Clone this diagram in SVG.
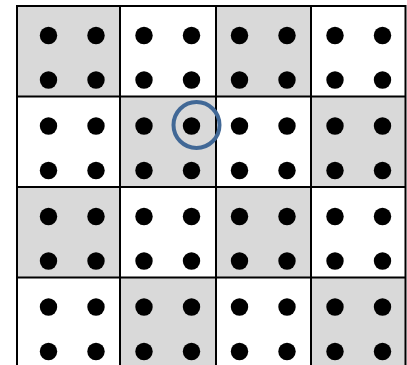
<svg xmlns="http://www.w3.org/2000/svg" width="407" height="365" viewBox="0 0 407 365">
<style>
.g{fill:#d9d9d9}
.ln{stroke:#000;stroke-width:2;fill:none}
.d{fill:#000}
.hl{fill:none;stroke:#416896;stroke-width:4}
</style>
<defs>
<g id="dots"><circle class="d" cx="24" cy="29.5" r="8.7"/><circle class="d" cx="71.5" cy="29.5" r="8.7"/><circle class="d" cx="24" cy="74" r="8.7"/><circle class="d" cx="71.5" cy="74" r="8.7"/></g>
</defs>
<rect width="407" height="365" fill="#fff"/>
<g id="cells">
<rect class="g" x="17" y="6" width="103" height="90.5"/>
<rect class="g" x="216" y="6" width="95" height="90.5"/>
<rect class="g" x="120" y="96.5" width="96" height="90.5"/>
<rect class="g" x="311" y="96.5" width="94.5" height="90.5"/>
<rect class="g" x="17" y="187" width="103" height="90.5"/>
<rect class="g" x="216" y="187" width="95" height="90.5"/>
<rect class="g" x="120" y="277.5" width="96" height="88"/>
<rect class="g" x="311" y="277.5" width="94.5" height="88"/>
</g>
<g id="dotgrid">
<use href="#dots" x="24.5" y="6"/><use href="#dots" x="120" y="6"/><use href="#dots" x="215.5" y="6"/><use href="#dots" x="311" y="6"/>
<use href="#dots" x="24.5" y="96.5"/><use href="#dots" x="120" y="96.5"/><use href="#dots" x="215.5" y="96.5"/><use href="#dots" x="311" y="96.5"/>
<use href="#dots" x="24.5" y="187"/><use href="#dots" x="120" y="187"/><use href="#dots" x="215.5" y="187"/><use href="#dots" x="311" y="187"/>
<use href="#dots" x="24.5" y="277.5"/><use href="#dots" x="120" y="277.5"/><use href="#dots" x="215.5" y="277.5"/><use href="#dots" x="311" y="277.5"/>
</g>
<g id="gridlines">
<path class="ln" d="M17 6V365M120 6V365M216 6V365M311 6V365M405.5 6V365M16 6H406.5M16 96.5H406.5M16 187H406.5M16 277.5H406.5"/>
</g>
<g id="highlight">
<circle class="hl" cx="196.5" cy="125" r="23"/>
</g>
</svg>
